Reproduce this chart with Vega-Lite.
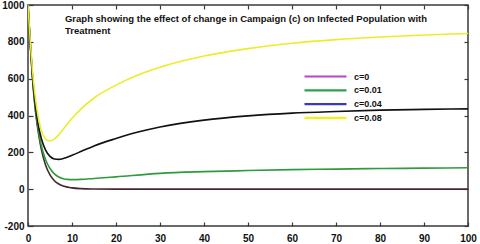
{
  "$schema": "https://vega.github.io/schema/vega-lite/v6.json",
  "width": 440,
  "height": 221,
  "autosize": "none",
  "padding": {"left": 28, "top": 5, "right": 12, "bottom": 18},
  "background": "white",
  "config": {
    "view": {"stroke": "#3a3a3a", "strokeWidth": 1.5},
    "font": "Liberation Sans",
    "axis": {"labelFont": "Liberation Sans", "labelFontWeight": "bold", "labelFontSize": 10, "labelColor": "#111", "tickColor": "#3a3a3a", "tickWidth": 1.2, "grid": false, "domain": false, "title": null, "labelFlush": false}
  },
  "datasets": {
    "curves": [
      {"c": "c=0", "t": 0, "v": 1000}, {"c": "c=0", "t": 0.5, "v": 790}, {"c": "c=0", "t": 1, "v": 610}, {"c": "c=0", "t": 1.5, "v": 470}, {"c": "c=0", "t": 2, "v": 365}, {"c": "c=0", "t": 2.5, "v": 285}, {"c": "c=0", "t": 3, "v": 220}, {"c": "c=0", "t": 4, "v": 130}, {"c": "c=0", "t": 5, "v": 78}, {"c": "c=0", "t": 6, "v": 46}, {"c": "c=0", "t": 7, "v": 28}, {"c": "c=0", "t": 8, "v": 17}, {"c": "c=0", "t": 10, "v": 7}, {"c": "c=0", "t": 12, "v": 3}, {"c": "c=0", "t": 15, "v": 1}, {"c": "c=0", "t": 20, "v": 0}, {"c": "c=0", "t": 50, "v": 0}, {"c": "c=0", "t": 100, "v": 0},
      {"c": "c=0.01", "t": 0, "v": 1000}, {"c": "c=0.01", "t": 0.5, "v": 795}, {"c": "c=0.01", "t": 1, "v": 615}, {"c": "c=0.01", "t": 1.5, "v": 478}, {"c": "c=0.01", "t": 2, "v": 375}, {"c": "c=0.01", "t": 2.5, "v": 298}, {"c": "c=0.01", "t": 3, "v": 240}, {"c": "c=0.01", "t": 4, "v": 160}, {"c": "c=0.01", "t": 5, "v": 112}, {"c": "c=0.01", "t": 6, "v": 83}, {"c": "c=0.01", "t": 7, "v": 66}, {"c": "c=0.01", "t": 8, "v": 57}, {"c": "c=0.01", "t": 9, "v": 53}, {"c": "c=0.01", "t": 10, "v": 52}, {"c": "c=0.01", "t": 12, "v": 53}, {"c": "c=0.01", "t": 15, "v": 58}, {"c": "c=0.01", "t": 20, "v": 67}, {"c": "c=0.01", "t": 30, "v": 86}, {"c": "c=0.01", "t": 40, "v": 95}, {"c": "c=0.01", "t": 50, "v": 101}, {"c": "c=0.01", "t": 60, "v": 106}, {"c": "c=0.01", "t": 70, "v": 109}, {"c": "c=0.01", "t": 80, "v": 112}, {"c": "c=0.01", "t": 90, "v": 114}, {"c": "c=0.01", "t": 100, "v": 116},
      {"c": "c=0.04", "t": 0, "v": 1000}, {"c": "c=0.04", "t": 0.5, "v": 800}, {"c": "c=0.04", "t": 1, "v": 625}, {"c": "c=0.04", "t": 1.5, "v": 495}, {"c": "c=0.04", "t": 2, "v": 400}, {"c": "c=0.04", "t": 2.5, "v": 330}, {"c": "c=0.04", "t": 3, "v": 278}, {"c": "c=0.04", "t": 4, "v": 212}, {"c": "c=0.04", "t": 5, "v": 178}, {"c": "c=0.04", "t": 6, "v": 164}, {"c": "c=0.04", "t": 7, "v": 162}, {"c": "c=0.04", "t": 8, "v": 166}, {"c": "c=0.04", "t": 10, "v": 184}, {"c": "c=0.04", "t": 12, "v": 204}, {"c": "c=0.04", "t": 15, "v": 235}, {"c": "c=0.04", "t": 20, "v": 275}, {"c": "c=0.04", "t": 25, "v": 310}, {"c": "c=0.04", "t": 30, "v": 338}, {"c": "c=0.04", "t": 40, "v": 375}, {"c": "c=0.04", "t": 50, "v": 398}, {"c": "c=0.04", "t": 60, "v": 413}, {"c": "c=0.04", "t": 70, "v": 422}, {"c": "c=0.04", "t": 80, "v": 429}, {"c": "c=0.04", "t": 90, "v": 433}, {"c": "c=0.04", "t": 100, "v": 436},
      {"c": "c=0.08", "t": 0, "v": 1000}, {"c": "c=0.08", "t": 0.5, "v": 810}, {"c": "c=0.08", "t": 1, "v": 650}, {"c": "c=0.08", "t": 1.5, "v": 530}, {"c": "c=0.08", "t": 2, "v": 440}, {"c": "c=0.08", "t": 2.5, "v": 370}, {"c": "c=0.08", "t": 3, "v": 320}, {"c": "c=0.08", "t": 3.5, "v": 290}, {"c": "c=0.08", "t": 4, "v": 272}, {"c": "c=0.08", "t": 4.5, "v": 264}, {"c": "c=0.08", "t": 5, "v": 263}, {"c": "c=0.08", "t": 6, "v": 272}, {"c": "c=0.08", "t": 7, "v": 295}, {"c": "c=0.08", "t": 8, "v": 325}, {"c": "c=0.08", "t": 10, "v": 385}, {"c": "c=0.08", "t": 12, "v": 435}, {"c": "c=0.08", "t": 15, "v": 495}, {"c": "c=0.08", "t": 20, "v": 565}, {"c": "c=0.08", "t": 25, "v": 620}, {"c": "c=0.08", "t": 30, "v": 662}, {"c": "c=0.08", "t": 40, "v": 723}, {"c": "c=0.08", "t": 50, "v": 763}, {"c": "c=0.08", "t": 60, "v": 792}, {"c": "c=0.08", "t": 70, "v": 812}, {"c": "c=0.08", "t": 80, "v": 826}, {"c": "c=0.08", "t": 90, "v": 837}, {"c": "c=0.08", "t": 100, "v": 845}
    ],
    "note": [
      {"label": "Graph showing the effect of change in Campaign (c) on Infected Population with\nTreatment"}
    ]
  },
  "layer": [
    {
      "data": {"name": "curves"},
      "mark": {"type": "line", "strokeWidth": 1.6, "interpolate": "monotone", "clip": true},
      "encoding": {
        "x": {"field": "t", "type": "quantitative", "scale": {"domain": [0, 100], "nice": false}, "axis": {"orient": "bottom", "values": [0, 10, 20, 30, 40, 50, 60, 70, 80, 90, 100], "tickSize": -4, "labelPadding": 11}},
        "y": {"field": "v", "type": "quantitative", "scale": {"domain": [-200, 1000], "nice": false}, "axis": {"orient": "left", "values": [-200, 0, 200, 400, 600, 800, 1000], "tickSize": -5, "labelPadding": 9, "labelExpr": "'' + datum.value"}},
        "stroke": {"field": "c", "type": "nominal", "scale": {"domain": ["c=0.08", "c=0.01", "c=0.04", "c=0"], "range": ["#ecec2a", "#2f9a3e", "#111111", "#4a2830"]}, "legend": null},
        "strokeWidth": {"field": "c", "type": "nominal", "scale": {"domain": ["c=0.08", "c=0.01", "c=0.04", "c=0"], "range": [2.2, 1.6, 1.6, 1.4]}, "legend": null}
      }
    },
    {
      "data": {"name": "curves"},
      "transform": [{"filter": "false"}],
      "mark": {"type": "line"},
      "encoding": {
        "x": {"field": "t", "type": "quantitative", "scale": {"domain": [0, 100], "nice": false}, "axis": {"orient": "top", "values": [0, 10, 20, 30, 40, 50, 60, 70, 80, 90, 100], "tickSize": -4, "labels": false}},
        "y": {"field": "v", "type": "quantitative", "scale": {"domain": [-200, 1000], "nice": false}, "axis": {"orient": "right", "values": [-200, 0, 200, 400, 600, 800, 1000], "tickSize": -4, "labels": false}},
        "color": {"field": "c", "type": "nominal", "scale": {"domain": ["c=0", "c=0.01", "c=0.04", "c=0.08"], "range": ["#c040c8", "#30a050", "#3838c0", "#f0f020"]}, "legend": {"orient": "none", "legendX": 291, "legendY": 65, "title": null, "symbolType": "M-4.2,0H4.2", "symbolSize": 100, "symbolStrokeWidth": 2.2, "labelOffset": 22, "labelFontSize": 9, "labelFontWeight": "bold", "labelFont": "Liberation Sans", "labelColor": "#111", "rowPadding": 1.8}}
      }
    },
    {
      "data": {"name": "note"},
      "mark": {"type": "text", "align": "left", "baseline": "top", "fontWeight": "bold", "fontSize": 9.5, "lineHeight": 11.5, "color": "#111", "lineBreak": "\n"},
      "encoding": {
        "x": {"datum": 8.4, "axis": null},
        "y": {"datum": 951, "axis": null},
        "text": {"field": "label"}
      }
    }
  ],
  "resolve": {"axis": {"x": "independent", "y": "independent"}}
}
